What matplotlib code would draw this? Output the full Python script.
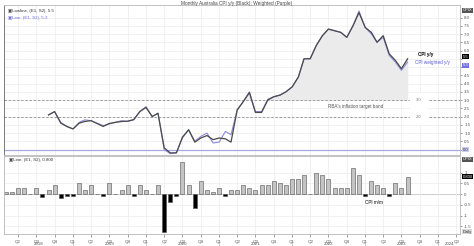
import pandas as pd
import matplotlib
matplotlib.use("Agg")
import matplotlib.pyplot as plt
import matplotlib.dates as mdates
import matplotlib.transforms as mtransforms

plt.rcParams["font.family"] = ["Liberation Sans", "DejaVu Sans"]

# monthly CPI indicator, y/y (%)
yy_months = pd.date_range("2018-09-01", "2023-08-01", freq="MS")
cpi_yy = [
    2.1, 2.3, 1.6, 1.4,
    1.25, 1.6, 1.7, 1.75, 1.58, 1.4, 1.58, 1.65, 1.7, 1.72, 1.82, 2.3,
    2.55, 2.0, 2.2, 0.1, -0.2, -0.2, 0.75, 1.2, 0.45, 0.7, 0.85, 0.6,
    0.7, 0.65, 0.45, 2.4, 2.9, 3.45, 2.25, 2.25, 3.0, 3.2, 3.3, 3.5,
    3.8, 4.4, 5.5, 5.5, 6.3, 6.9, 7.3, 7.2, 7.1, 6.8, 7.5, 8.3,
    7.4, 7.1, 6.5, 6.9, 5.8, 5.4, 4.9, 5.5,
]
cpi_yy_weighted = [
    2.1, 2.3, 1.65, 1.4,
    1.25, 1.65, 1.8, 1.75, 1.6, 1.45, 1.55, 1.65, 1.75, 1.7, 1.8, 2.3,
    2.6, 2.0, 2.2, 0.0, -0.25, -0.2, 0.7, 1.2, 0.5, 0.8, 1.0, 0.4,
    0.45, 1.1, 0.9, 2.4, 2.9, 3.5, 2.3, 2.3, 3.05, 3.2, 3.3, 3.5,
    3.8, 4.4, 5.5, 5.5, 6.3, 6.9, 7.3, 7.2, 7.1, 6.8, 7.5, 8.4,
    7.4, 7.0, 6.5, 6.8, 5.7, 5.3, 4.8, 5.3,
]

# monthly CPI indicator, m/m (%)
mm_months = pd.date_range("2018-02-01", "2023-08-01", freq="MS")
cpi_mm = [
    0.1, 0.1, 0.3, 0.3, 0.0, 0.3, -0.15, 0.2, 0.4, -0.2, -0.1,
    -0.1, 0.5, 0.2, 0.4, 0.0, -0.1, 0.5, 0.0, 0.2, 0.4, -0.1, 0.4,
    0.2, 0.0, 0.4, -1.75, -0.35, -0.1, 1.5, 0.4, -0.65, 0.6, 0.2, 0.1,
    0.3, -0.1, 0.2, 0.2, 0.4, 0.3, 0.2, 0.4, 0.4, 0.6, 0.5, 0.4,
    0.7, 0.7, 0.9, 0.0, 1.0, 0.9, 0.7, 0.3, 0.3, 0.3, 1.2, 0.9,
    -0.1, 0.6, 0.4, 0.3, -0.1, 0.5, 0.3, 0.8,
]

quarter_ticks = pd.date_range("2018-04-01", "2024-04-01", freq="QS")
quarter_labels = [f"Q{d.quarter}" for d in quarter_ticks]
year_labels = ["2018", "2019", "2020", "2021", "2022", "2023", "2024"]
year_pos = pd.to_datetime(["2018-07-12", "2019-07-02", "2020-07-02", "2021-07-02",
                           "2022-07-02", "2023-07-02", "2024-02-25"])
year_breaks = pd.date_range("2019-01-01", "2024-01-01", freq="YS")

x_left = pd.Timestamp("2018-01-21")
x_right = pd.Timestamp("2024-04-19")

W, H = 474, 246
fig = plt.figure(figsize=(W / 100, H / 100), dpi=100)
ax1 = fig.add_axes([4 / W, 1 - 155 / H, 456 / W, 150 / H])
ax2 = fig.add_axes([4 / W, 1 - 234 / H, 456 / W, 78 / H])

grid_c = "#ececec"
tick_c = "#555555"

# ---- top panel
ax1.fill_between(yy_months, cpi_yy, 3.0, where=[v > 3.0 for v in cpi_yy],
                 interpolate=True, color="#ebebeb", zorder=1)
ax1.axhline(3.0, color="#909090", lw=0.6, ls=(0, (3, 2)), zorder=2)
ax1.axhline(2.0, color="#909090", lw=0.6, ls=(0, (3, 2)), zorder=2)
ax1.axhline(0.0, color="#a8a8e0", lw=0.9, zorder=2)
ax1.plot(yy_months, cpi_yy_weighted, color="#8c8cdc", lw=0.8, zorder=3)
ax1.plot(yy_months, cpi_yy, color="#4a4a4a", lw=0.9, zorder=4)

yt = [i * 0.5 for i in range(17)]
ax1.set_xlim(x_left, x_right)
ax1.set_ylim(-0.33, 8.76)
ax1.set_yticks(yt)
# 0.0, 5.0 and 5.5 sit under the value boxes
ax1.set_yticklabels(["" if v in (0.0, 5.0, 5.5) else f"{v:.1f}" for v in yt])
ax1.set_xticks(quarter_ticks)
ax1.set_xticklabels([])
ax1.yaxis.tick_right()
ax1.tick_params(axis="y", labelsize=3.2, length=1.5, width=0.4, pad=1.5, colors=tick_c)
ax1.tick_params(axis="x", length=0)
ax1.grid(True, color=grid_c, lw=0.5, zorder=0)
for s in ax1.spines.values():
    s.set_color("#b8b8b8")
    s.set_linewidth(0.6)
ax1.spines["left"].set_color("#666666")

ax1.text(pd.Timestamp("2023-09-25"), 3.0, "3.0", fontsize=3, color="#777777",
         ha="center", va="center", backgroundcolor="white", zorder=3)
ax1.text(pd.Timestamp("2023-09-25"), 2.0, "2.0", fontsize=3, color="#777777",
         ha="center", va="center", backgroundcolor="white", zorder=3)
ax1.text(pd.Timestamp("2022-11-15"), 2.6, "RBA's inflation target band", fontsize=3.3,
         color="#555555", ha="center", va="center")
ax1.text(pd.Timestamp("2023-09-20"), 5.75, "CPI y/y", fontsize=3.3, color="black",
         fontweight="bold", ha="left", va="center")
ax1.text(pd.Timestamp("2023-09-05"), 5.25, "CPI weighted y/y", fontsize=3.3,
         color="#5a5ad0", ha="left", va="center")

ax1.text(0.008, 0.975, "\u25a3Lowline, (E1, S2), 5.5", transform=ax1.transAxes,
         fontsize=3.2, color="#333333", ha="left", va="top")
ax1.text(0.008, 0.93, "\u25a3Line, (E1, S2), 5.3", transform=ax1.transAxes,
         fontsize=3.2, color="#6a6ad8", ha="left", va="top")
fig.text(0.5, 1 - 3 / H, "Monthly Australia CPI y/y (Black); Weighted (Purple)",
         fontsize=3.4, color="#444444", ha="center", va="center")

tr1 = mtransforms.blended_transform_factory(ax1.transAxes, ax1.transData)
box_kw = dict(fontsize=3, ha="left", va="center", transform=tr1, clip_on=False)
ax1.text(1.006, 5.62, "5.5", color="white",
         bbox=dict(boxstyle="square,pad=0.12", fc="black", ec="none"), **box_kw)
ax1.text(1.006, 5.12, "5.3", color="white",
         bbox=dict(boxstyle="square,pad=0.12", fc="#7070e0", ec="none"), **box_kw)
ax1.text(1.006, 0.0, "0.0", color="#333333",
         bbox=dict(boxstyle="square,pad=0.12", fc="#c8c8f0", ec="none"), **box_kw)
ax1.text(1.006, 8.45, "CPIX", color="white",
         bbox=dict(boxstyle="square,pad=0.12", fc="#555555", ec="none"), **box_kw)

# ---- bottom panel
bar_colors = ["#c4c4c4" if v >= 0 else "black" for v in cpi_mm]
ax2.axhline(0, color="#888888", lw=0.7, zorder=1)
ax2.bar(mm_months, cpi_mm, width=20, color=bar_colors, edgecolor="#505050",
        linewidth=0.4, zorder=2)
ax2.set_xlim(x_left, x_right)
ax2.set_ylim(-1.86, 1.77)
ax2.set_yticks([-1.5, -1, -0.5, 0, 0.5, 1])
ax2.set_yticklabels(["-1.5", "-1", "-0.5", "0", "0.5", "1"])
ax2.yaxis.tick_right()
ax2.tick_params(axis="y", labelsize=3.2, length=1.5, width=0.4, pad=1.5, colors=tick_c)
ax2.set_xticks(quarter_ticks)
ax2.set_xticklabels(quarter_labels)
ax2.xaxis.set_minor_locator(mdates.MonthLocator())
ax2.tick_params(axis="x", which="major", labelsize=3.2, length=2, width=0.4, pad=2, colors=tick_c)
ax2.tick_params(axis="x", which="minor", length=1, width=0.3, colors="#999999")
ax2.grid(True, color=grid_c, lw=0.5, zorder=0)
for s in ax2.spines.values():
    s.set_color("#b8b8b8")
    s.set_linewidth(0.6)

trx = mtransforms.blended_transform_factory(ax2.transData, ax2.transAxes)
for pos, lab in zip(year_pos, year_labels):
    ax2.text(pos, -0.13, lab, transform=trx, fontsize=3.2, color=tick_c,
             ha="center", va="center", clip_on=False)
for pos in year_breaks:
    ax2.text(pos, -0.13, "|", transform=trx, fontsize=3.6, color="#888888",
             ha="center", va="center", clip_on=False)

ax2.text(pd.Timestamp("2023-02-15"), -0.38, "CPI m/m", fontsize=3.3, color="black",
         ha="center", va="center")
ax2.text(0.01, 0.97, "\u25a3Line, (E1, S2), 0.800", transform=ax2.transAxes,
         fontsize=3.2, color="#333333", ha="left", va="top")

tr2 = mtransforms.blended_transform_factory(ax2.transAxes, ax2.transData)
box_kw2 = dict(fontsize=3, ha="left", va="center", transform=tr2, clip_on=False)
ax2.text(1.006, 0.8, "0.800", color="white",
         bbox=dict(boxstyle="square,pad=0.12", fc="black", ec="none"), **box_kw2)
ax2.text(1.006, 1.62, "CPIX", color="white",
         bbox=dict(boxstyle="square,pad=0.12", fc="#555555", ec="none"), **box_kw2)
ax2.text(1.006, -1.75, "Daily", color="#333333",
         bbox=dict(boxstyle="square,pad=0.12", fc="#d8d8d8", ec="none"), **box_kw2)

plt.savefig("out.png", dpi=100)
